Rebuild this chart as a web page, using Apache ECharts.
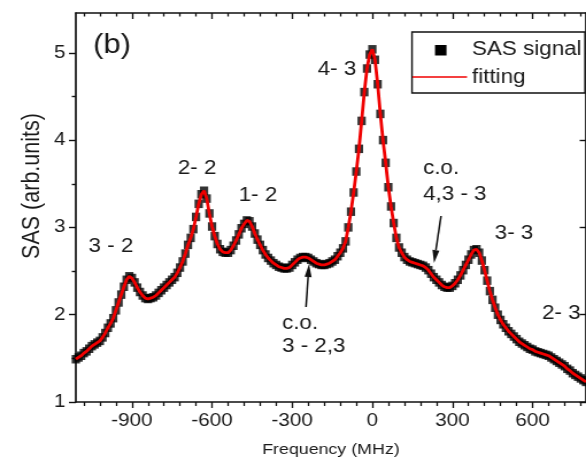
<!DOCTYPE html>
<html><head><meta charset="utf-8">
<script src="https://cdn.jsdelivr.net/npm/echarts@6.0.0/dist/echarts.min.js"></script>
<style>
html,body{margin:0;padding:0;background:#fff;overflow:hidden}
#wrap{width:586px;height:463px;overflow:hidden;position:relative;background:#fff}
#chart{width:510px;height:463px;transform:scaleX(1.1490196);transform-origin:0 0}
</style></head><body>
<div id="wrap"><div id="chart"></div></div>
<script>
// Frequency (MHz) sampling points
const frequency = [
-1110,-1100,-1090,-1080,-1070,-1060,-1050,-1040,-1030,-1020,
-1010,-1000,-990,-980,-970,-960,-950,-940,-930,-920,
-910,-900,-890,-880,-870,-860,-850,-840,-830,-820,
-810,-800,-790,-780,-770,-760,-750,-740,-730,-720,
-710,-700,-690,-680,-670,-660,-650,-640,-630,-620,
-610,-600,-590,-580,-570,-560,-550,-540,-530,-520,
-510,-500,-490,-480,-470,-460,-450,-440,-430,-420,
-410,-400,-390,-380,-370,-360,-350,-340,-330,-320,
-310,-300,-290,-280,-270,-260,-250,-240,-230,-220,
-210,-200,-190,-180,-170,-160,-150,-140,-130,-120,
-110,-100,-90,-80,-70,-60,-50,-40,-30,-20,
-10,0,10,20,30,40,50,60,70,80,
90,100,110,120,130,140,150,160,170,180,
190,200,210,220,230,240,250,260,270,280,
290,300,310,320,330,340,350,360,370,380,
390,400,410,420,430,440,450,460,470,480,
490,500,510,520,530,540,550,560,570,580,
590,600,610,620,630,640,650,660,670,680,
690,700,710,720,730,740,750,760,770,780,
790,800
];
// SAS signal (arb. units)
const sasSignal = [
1.49,1.51,1.53,1.56,1.58,1.61,1.64,1.66,1.68,1.70,
1.74,1.79,1.85,1.90,1.96,2.05,2.14,2.23,2.32,2.40,
2.44,2.42,2.37,2.31,2.26,2.22,2.19,2.18,2.19,2.20,
2.22,2.25,2.28,2.31,2.34,2.37,2.40,2.43,2.48,2.54,
2.61,2.70,2.80,2.88,2.98,3.12,3.27,3.38,3.42,3.33,
3.16,3.01,2.90,2.81,2.75,2.72,2.71,2.71,2.74,2.79,
2.85,2.92,2.99,3.04,3.08,3.07,3.01,2.93,2.86,2.80,
2.74,2.69,2.65,2.62,2.59,2.57,2.55,2.54,2.53,2.53,
2.54,2.57,2.60,2.63,2.65,2.66,2.66,2.65,2.63,2.61,
2.59,2.58,2.57,2.57,2.58,2.59,2.61,2.63,2.67,2.71,
2.76,2.84,3.00,3.18,3.40,3.64,3.90,4.22,4.55,4.82,
4.98,5.04,4.92,4.64,4.30,4.00,3.74,3.46,3.24,3.05,
2.88,2.77,2.71,2.66,2.63,2.61,2.60,2.59,2.58,2.57,
2.56,2.54,2.51,2.47,2.43,2.40,2.37,2.34,2.32,2.31,
2.31,2.33,2.36,2.40,2.45,2.51,2.57,2.63,2.69,2.74,
2.75,2.71,2.62,2.51,2.39,2.27,2.17,2.08,2.00,1.94,
1.89,1.85,1.81,1.78,1.75,1.72,1.69,1.67,1.65,1.63,
1.61,1.60,1.58,1.57,1.56,1.55,1.54,1.53,1.51,1.49,
1.47,1.45,1.43,1.41,1.38,1.36,1.33,1.31,1.29,1.27,
1.25,1.23
];
// fitted curve values (same sampling)
const fitting = sasSignal;

const xMajorTicks = [-900,-600,-300,0,300,600];
const xMinorTicks = [-1080,-1020,-960,-840,-780,-720,-660,-540,-480,-420,-360,-240,-180,-120,-60,60,120,180,240,360,420,480,540,660,720,780];
const yMajorTicks = [1,2,3,4,5];
const yMinorTicks = [1.5,2.5,3.5,4.5];

const peakLabels = ['(b)','2- 2','1- 2','3 - 2','4- 3','c.o.','4,3 - 3','3- 3','2- 3','c.o.','3 - 2,3'];

const S = 586/510;
const X = v => v / S;
const FONT = '"Liberation Sans", Arial, Helvetica, sans-serif';
const TXT = '#1a1a1a';
const AX = '#111';

const chart = echarts.init(document.getElementById('chart'), null, {renderer:'canvas'});

function xAxisDef(pos, ticks, len, inside, showLine, showLabel, extra) {
  return Object.assign({
    type:'value', position:pos, min:-1110, max:800, gridIndex:0,
    axisLine:{show:showLine, onZero:false, lineStyle:{color:AX, width:1.5}},
    axisTick:{show:true, inside:inside, length:len, customValues:ticks, lineStyle:{color:AX, width:1.3}},
    axisLabel: showLabel ? {show:true, customValues:ticks, margin:10, fontSize:18, fontFamily:FONT, color:TXT} : {show:false},
    splitLine:{show:false}, minorTick:{show:false}
  }, extra||{});
}
function yAxisDef(pos, ticks, len, inside, showLine, showLabel) {
  return {
    type:'value', position:pos, min:1, max:5.456, gridIndex:0,
    axisLine:{show:showLine, onZero:false, lineStyle:{color:AX, width:1.7}},
    axisTick:{show:true, inside:inside, length:len, customValues:ticks, lineStyle:{color:AX, width:1.4}},
    axisLabel: showLabel ? {show:true, customValues:ticks, margin:9, fontSize:18, fontFamily:FONT, color:TXT} : {show:false},
    splitLine:{show:false}, minorTick:{show:false}
  };
}

function arrow(tail, tip, headLen, halfW) {
  const dx = tip[0]-tail[0], dy = tip[1]-tail[1];
  const L = Math.hypot(dx,dy), ux = dx/L, uy = dy/L;
  const bx = tip[0]-ux*headLen, by = tip[1]-uy*headLen;
  const p1 = [bx - uy*halfW, by + ux*halfW], p2 = [bx + uy*halfW, by - ux*halfW];
  const c = p => [X(p[0]), p[1]];
  return [
    {type:'line', shape:{x1:X(tail[0]), y1:tail[1], x2:X(bx), y2:by}, style:{stroke:AX, lineWidth:1.5}, z:50},
    {type:'polygon', shape:{points:[c(tip), c(p1), c(p2)]}, style:{fill:AX}, z:50}
  ];
}

function label(text, x, y, size, align) {
  return {type:'text', x:X(x), y:y, z:60,
    style:{text:text, fontSize:size, fontFamily:FONT, fill:TXT, align:align||'center', verticalAlign:'middle'}};
}

const graphics = [
  label(peakLabels[0], 93, 46, 27, 'left'),
  label(peakLabels[1], 197, 169, 19.5),
  label(peakLabels[2], 258, 196, 19.5),
  label(peakLabels[3], 111, 247, 19.5),
  label(peakLabels[4], 337, 70, 19.5),
  label(peakLabels[5], 423, 169, 19.5, 'left'),
  label(peakLabels[6], 423, 195, 19.5, 'left'),
  label(peakLabels[7], 514, 234, 19.5),
  label(peakLabels[8], 542, 314, 19.5, 'left'),
  label(peakLabels[9], 282, 324, 19.5, 'left'),
  label(peakLabels[10], 282, 347, 19.5, 'left'),
  {type:'text', x:X(32), y:186, rotation:Math.PI/2, z:60,
    style:{text:'SAS (arb.units)', fontSize:21.5, fontFamily:FONT, fill:TXT, align:'center', verticalAlign:'middle'}},
  // legend
  {type:'rect', shape:{x:X(412), y:32, width:X(585)-X(412), height:61}, style:{fill:'#fff', stroke:AX, lineWidth:1.4}, z:100},
  {type:'rect', shape:{x:X(435), y:45, width:X(446.5)-X(435), height:10.5}, style:{fill:'#000'}, z:101},
  {type:'line', shape:{x1:X(412.5), y1:77, x2:X(467), y2:77}, style:{stroke:'#f00000', lineWidth:1.6}, z:101},
  {type:'text', x:X(472), y:50, z:101, style:{text:'SAS signal', fontSize:19.5, fontFamily:FONT, fill:TXT, verticalAlign:'middle'}},
  {type:'text', x:X(472), y:78, z:101, style:{text:'fitting', fontSize:19.5, fontFamily:FONT, fill:TXT, verticalAlign:'middle'}}
].concat(arrow([306,307],[309,264],13,3.5)).concat(arrow([441,216],[434,263],13,3.5));

chart.setOption({
  animation:false,
  backgroundColor:'#fff',
  grid:{left:66, right:-4, top:13, bottom:59, containLabel:false},
  xAxis:[
    xAxisDef('bottom', xMajorTicks, 6, false, true, true, {
      name:'Frequency (MHz)', nameLocation:'middle', nameGap:40,
      nameTextStyle:{fontSize:15.5, fontFamily:FONT, color:TXT}}),
    xAxisDef('bottom', xMinorTicks, 4, false, false, false),
    xAxisDef('top', xMajorTicks, 6, true, true, false),
    xAxisDef('top', xMinorTicks, 3.5, true, false, false)
  ],
  yAxis:[
    yAxisDef('left', yMajorTicks, 6, false, true, true),
    yAxisDef('left', yMinorTicks, 3.5, false, false, false),
    yAxisDef('right', yMajorTicks, 5.5, true, true, false)
  ],
  series:[
    {name:'SAS signal', type:'scatter', xAxisIndex:0, yAxisIndex:0,
     symbol:'rect', symbolSize:[7.2,8.5], itemStyle:{color:'#000'}, z:2,
     data: frequency.map((f,i)=>[f, sasSignal[i]])},
    {name:'fitting', type:'line', xAxisIndex:0, yAxisIndex:0,
     showSymbol:false, symbol:'none', lineStyle:{color:'#f00000', width:2.8}, z:3,
     data: frequency.map((f,i)=>[f, fitting[i]])}
  ],
  graphic: graphics
});
</script>
</body></html>
